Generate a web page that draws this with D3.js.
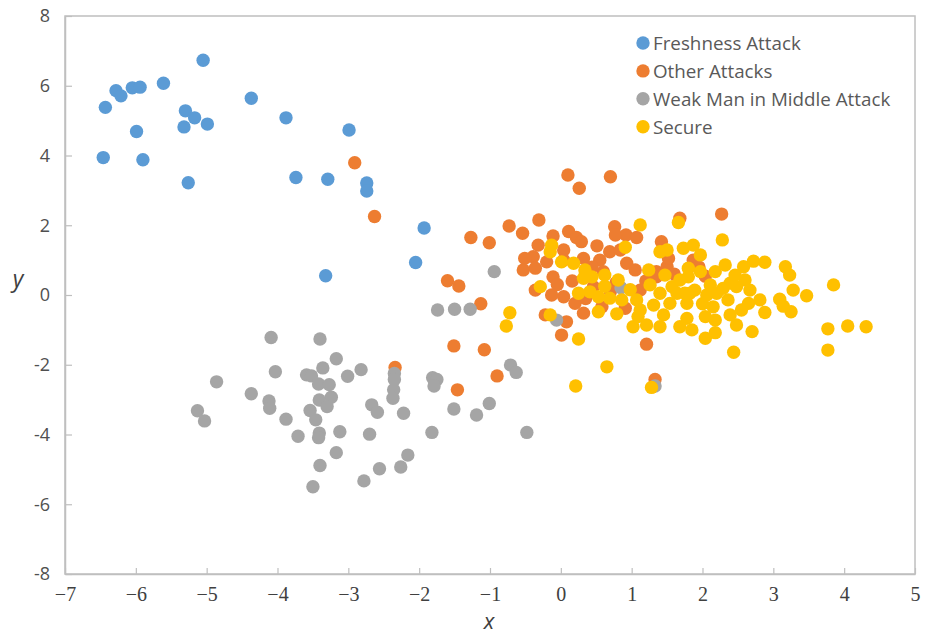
<!DOCTYPE html>
<html>
<head>
<meta charset="utf-8">
<script src="https://cdn.jsdelivr.net/npm/d3@7/dist/d3.min.js"></script>
<style>
  html, body { margin: 0; padding: 0; background: #fff; }
  svg { display: block; }
</style>
</head>
<body>
<svg id="chart" width="934" height="634"></svg>
<script>
// Scatter of attack classes in a 2-D feature projection.
const seriesNames = ["Freshness Attack", "Other Attacks", "Weak Man in Middle Attack", "Secure"];

const freshness = [
  [-6.43, 5.38], [-6.28, 5.86], [-6.21, 5.71], [-6.05, 5.94], [-5.94, 5.96],
  [-5.61, 6.07], [-5.05, 6.73], [-5.99, 4.69], [-6.46, 3.94], [-5.90, 3.88],
  [-5.30, 5.28], [-5.17, 5.08], [-5.32, 4.82], [-4.99, 4.90], [-5.26, 3.22],
  [-4.37, 5.64], [-3.88, 5.08], [-2.99, 4.73], [-3.74, 3.37], [-3.29, 3.32],
  [-2.74, 3.21], [-2.74, 2.98], [-1.93, 1.92], [-2.05, 0.93], [-3.32, 0.55]
];

const otherAttacks = [
  [-2.91, 3.79], [-2.63, 2.25], [-1.60, 0.41], [-1.44, 0.26], [-1.13, -0.25],
  [-1.51, -1.46], [-1.08, -1.57], [-0.90, -2.32], [-1.46, -2.72], [-2.34, -2.08],
  [-1.27, 1.65], [-1.01, 1.50], [-0.73, 1.98],
  [0.10, 3.44], [0.70, 3.39], [0.26, 3.06], [-0.31, 2.15], [-0.54, 1.77],
  [-0.11, 1.69], [0.11, 1.82], [0.22, 1.65], [0.29, 1.53], [0.51, 1.41],
  [0.76, 1.96], [0.92, 1.72], [0.77, 1.72], [1.07, 1.65], [1.68, 2.20],
  [1.42, 1.53], [-0.32, 1.43], [-0.39, 1.10], [-0.51, 1.05], [-0.53, 0.72],
  [-0.36, 0.77], [-0.20, 0.95], [0.04, 1.29], [0.04, 1.00], [-0.11, 0.52],
  [0.32, 1.05], [0.55, 1.00], [0.69, 1.24], [0.84, 1.29], [0.60, 0.67],
  [0.93, 0.91], [1.05, 0.72], [1.35, 0.67], [1.50, 0.81], [1.87, 1.00],
  [-0.36, 0.14], [-0.13, 0.00], [0.04, -0.05], [0.20, -0.24], [0.32, -0.52],
  [0.08, -0.77], [-0.22, -0.57], [0.01, -1.15], [1.21, -1.41], [0.58, -0.34],
  [0.91, -0.38], [1.35, 0.52], [0.46, 0.24], [2.27, 2.32], [2.04, 0.54],
  [1.33, -2.42], [0.78, 0.35], [1.12, 0.14], [1.60, 0.60], [1.95, 0.80],
  [0.44, 0.80], [0.16, 0.40], [-0.05, 0.30], [0.70, 0.10], [1.20, 0.40],
  [1.52, 1.05], [0.35, -0.10]
];

const weakMitm = [
  [-4.09, -1.22], [-3.40, -1.26], [-3.17, -1.83], [-4.03, -2.20], [-3.36, -2.09],
  [-3.59, -2.29], [-3.52, -2.32], [-3.01, -2.33], [-2.82, -2.14], [-2.35, -2.25],
  [-2.35, -2.42], [-2.36, -2.72], [-2.37, -2.96], [-1.81, -2.37], [-1.75, -2.42],
  [-1.79, -2.61], [-1.51, -3.27], [-4.86, -2.49], [-4.37, -2.83], [-4.12, -3.04],
  [-4.11, -3.25], [-3.42, -2.55], [-3.27, -2.57], [-3.24, -2.93], [-3.41, -3.01],
  [-3.30, -3.20], [-3.54, -3.31], [-3.46, -3.58], [-3.88, -3.56], [-5.13, -3.32],
  [-5.03, -3.61], [-3.71, -4.05], [-3.41, -3.96], [-3.42, -4.09], [-3.12, -3.92],
  [-2.70, -3.99], [-2.67, -3.15], [-2.59, -3.36], [-2.22, -3.39], [-1.82, -3.94],
  [-3.17, -4.52], [-3.40, -4.89], [-3.50, -5.50], [-2.78, -5.33], [-2.56, -4.98],
  [-2.26, -4.93], [-2.16, -4.59], [-1.74, -0.43], [-1.50, -0.41], [-1.28, -0.41],
  [-0.94, 0.67], [-0.71, -2.01], [-0.63, -2.22], [-1.19, -3.44], [-1.01, -3.11],
  [-0.48, -3.94], [-0.06, -0.72], [0.85, 0.21], [1.33, -2.61]
];

const secure = [
  [-0.72, -0.51], [-0.77, -0.89], [-0.29, 0.24], [-0.15, -0.57], [-0.13, 1.43],
  [-0.15, 1.24], [1.12, 2.01], [1.66, 2.08], [0.01, 0.95], [0.18, 0.91],
  [0.34, 0.72], [0.32, 0.48], [0.44, 0.52], [0.62, 0.57], [0.91, 1.37],
  [0.81, 0.43], [1.24, 0.72], [1.40, 1.24], [1.50, 1.29], [1.73, 1.34],
  [1.87, 1.43], [0.25, 0.05], [0.41, 0.09], [0.53, -0.05], [0.69, -0.09],
  [0.86, -0.14], [1.07, -0.14], [1.31, -0.29], [1.40, 0.05], [1.57, 0.24],
  [1.68, 0.43], [1.80, 0.52], [1.64, 0.05], [1.82, 0.05], [1.54, -0.24],
  [1.78, -0.24], [0.53, -0.48], [0.79, -0.54], [1.02, -0.91], [1.21, -0.86],
  [1.40, -0.91], [1.45, -0.57], [1.68, -0.91], [1.85, -1.00], [1.09, -0.62],
  [0.25, -1.26], [0.65, -2.06], [0.21, -2.61], [1.28, -2.65],
  [2.28, 1.58], [1.80, 0.77], [1.97, 0.67], [2.18, 0.67], [2.46, 0.57],
  [2.58, 0.81], [2.72, 0.97], [2.88, 0.94], [3.17, 0.81], [3.23, 0.57],
  [3.28, 0.14], [3.47, -0.02], [3.85, 0.29], [3.09, -0.12], [3.14, -0.32],
  [3.25, -0.48], [2.88, -0.50], [2.81, -0.14], [2.67, 0.14], [2.48, 0.24],
  [2.39, 0.34], [2.29, 0.19], [2.20, 0.05], [2.06, 0.00], [1.89, 0.14],
  [1.75, 0.05], [2.15, -0.34], [2.36, -0.14], [2.39, -0.57], [2.55, -0.43],
  [2.65, -0.24], [2.48, -0.86], [2.70, -1.05], [2.04, -0.62], [2.18, -0.72],
  [1.78, -0.67], [2.04, -1.24], [2.18, -1.08], [2.44, -1.64], [3.77, -0.97],
  [4.05, -0.89], [3.77, -1.58], [4.31, -0.91],
  [1.97, 1.15], [2.60, 0.43], [2.32, 0.86], [2.11, 0.29], [1.47, 0.57],
  [1.26, 0.29], [1.12, -0.43], [0.62, 0.25], [0.98, 0.15], [2.00, -0.25]
];

const xTicks = [-7, -6, -5, -4, -3, -2, -1, 0, 1, 2, 3, 4, 5];
const yTicks = [-8, -6, -4, -2, 0, 2, 4, 6, 8];

const colors = ["#5B9BD5", "#ED7D31", "#A5A5A5", "#FFC000"];
const series = [freshness, otherAttacks, weakMitm, secure];

const svg = d3.select("#chart");
const plot = { left: 65, right: 915, top: 16, bottom: 574 };

const x = d3.scaleLinear().domain([-7, 5]).range([plot.left, plot.right]);
const y = d3.scaleLinear().domain([-8, 8]).range([plot.bottom, plot.top]);

const axisColor = "#BFBFBF";

// Frame around the plotting area
svg.append("rect")
  .attr("x", plot.left).attr("y", plot.top)
  .attr("width", plot.right - plot.left).attr("height", plot.bottom - plot.top)
  .attr("fill", "none").attr("stroke", axisColor).attr("stroke-width", 1.5);

// Bottom axis: inward ticks, serif labels with true minus signs
const xAxis = d3.axisBottom(x)
  .tickValues(xTicks)
  .tickSizeInner(-6).tickSizeOuter(0)
  .tickPadding(13)
  .tickFormat(d => d < 0 ? "\u2212" + Math.abs(d) : String(d));

const gx = svg.append("g")
  .attr("transform", `translate(0,${plot.bottom})`)
  .call(xAxis);
gx.select(".domain").attr("stroke", axisColor).attr("stroke-width", 1.5);
gx.selectAll(".tick line").attr("stroke", axisColor).attr("stroke-width", 1.2);
gx.selectAll(".tick text")
  .attr("fill", "#404040")
  .style("font-family", "'Liberation Serif', 'DejaVu Serif', serif")
  .style("font-size", "20px");

// Left axis: inward ticks, sans labels
const yAxis = d3.axisLeft(y)
  .tickValues(yTicks)
  .tickSizeInner(-7).tickSizeOuter(0)
  .tickPadding(15)
  .tickFormat(d => String(d));

const gy = svg.append("g")
  .attr("transform", `translate(${plot.left},0)`)
  .call(yAxis);
gy.select(".domain").attr("stroke", axisColor).attr("stroke-width", 1.5);
gy.selectAll(".tick line").attr("stroke", axisColor).attr("stroke-width", 1.2);
gy.selectAll(".tick text")
  .attr("fill", "#505050")
  .style("font-family", "'Open Sans', 'Noto Sans', sans-serif")
  .style("font-size", "18px");

// Axis titles
svg.append("text")
  .attr("x", (plot.left + plot.right) / 2 - 1)
  .attr("y", 629)
  .attr("text-anchor", "middle")
  .attr("fill", "#404040")
  .style("font-family", "'Open Sans', 'Noto Sans', sans-serif")
  .style("font-style", "italic")
  .style("font-size", "22px")
  .text("x");

svg.append("text")
  .attr("x", 18)
  .attr("y", y(0) - 8)
  .attr("text-anchor", "middle")
  .attr("fill", "#404040")
  .style("font-family", "'Open Sans', 'Noto Sans', sans-serif")
  .style("font-style", "italic")
  .style("font-size", "23px")
  .text("y");

// Markers, drawn series by series so later classes sit on top
const marks = svg.append("g");
series.forEach((pts, i) => {
  marks.append("g")
    .selectAll("circle")
    .data(pts)
    .join("circle")
    .attr("cx", d => x(d[0]))
    .attr("cy", d => y(d[1]))
    .attr("r", 6.7)
    .attr("fill", colors[i]);
});

// Legend
const legend = svg.append("g").attr("transform", "translate(643,43)");
seriesNames.forEach((name, i) => {
  const row = legend.append("g").attr("transform", `translate(0,${i * 27.9})`);
  row.append("circle").attr("r", 6.7).attr("fill", colors[i]);
  row.append("text")
    .attr("x", 10)
    .attr("dy", "0.38em")
    .attr("fill", "#595959")
    .style("font-family", "'Open Sans', 'Noto Sans', sans-serif")
    .style("font-size", "18.8px")
    .text(name);
});
</script>
</body>
</html>
